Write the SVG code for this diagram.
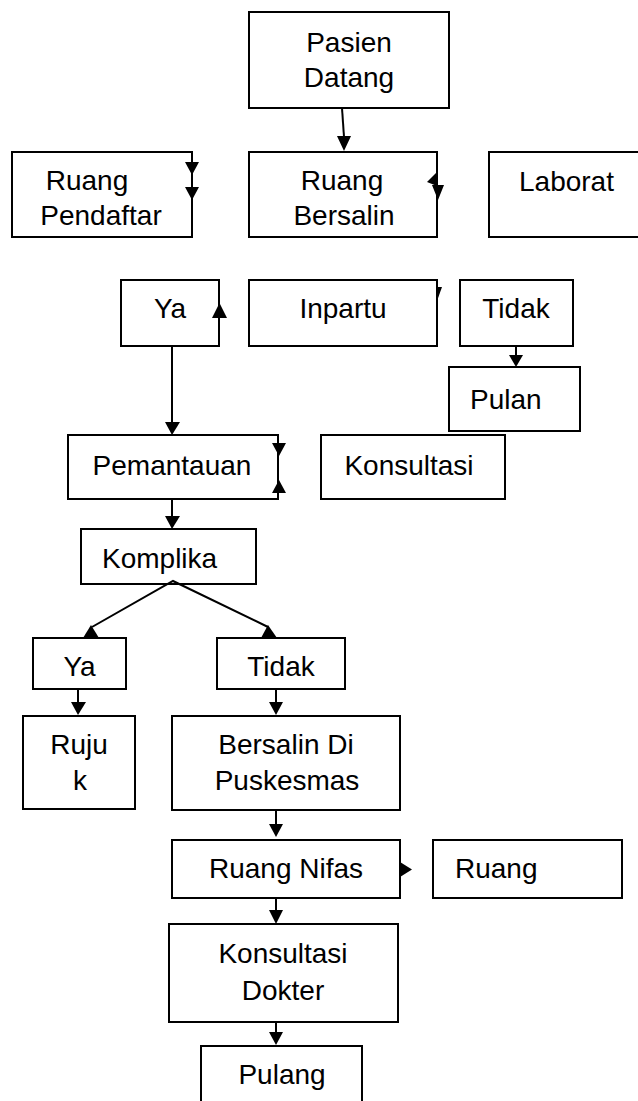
<svg xmlns="http://www.w3.org/2000/svg" width="638" height="1101" viewBox="0 0 638 1101">
<style>
.box{fill:#fff;stroke:#000;stroke-width:2}
.t{font-family:"Liberation Sans",Arial,sans-serif;font-size:28px;fill:#000}
.m{text-anchor:middle}
.ln{stroke:#000;stroke-width:2;fill:none}
.ah{fill:#000;stroke:none}
</style>
<rect width="638" height="1101" fill="#fff"/>
<g id="n-pasien"><rect class="box" x="249" y="12" width="200" height="96"/><text class="t m" x="349" y="52">Pasien</text><text class="t m" x="349" y="87">Datang</text></g>
<g id="n-pendaftar"><rect class="box" x="12" y="152" width="180" height="85"/><text class="t m" x="87" y="190">Ruang</text><text class="t m" x="101" y="225">Pendaftar</text></g>
<g id="n-bersalin"><rect class="box" x="249" y="152" width="188" height="85"/><text class="t m" x="342" y="190">Ruang</text><text class="t m" x="344" y="225">Bersalin</text></g>
<g id="n-laborat"><rect class="box" x="489" y="152" width="200" height="85"/><text class="t" x="519" y="191">Laborat</text></g>
<g id="n-ya1"><rect class="box" x="121" y="280" width="98" height="66"/><text class="t m" x="170" y="318">Ya</text></g>
<g id="n-inpartu"><rect class="box" x="249" y="280" width="188" height="66"/><text class="t m" x="343" y="318">Inpartu</text></g>
<g id="n-tidak1"><rect class="box" x="460" y="280" width="113" height="66"/><text class="t m" x="516" y="318">Tidak</text></g>
<g id="n-pulan"><rect class="box" x="449" y="367" width="131" height="64"/><text class="t" x="470" y="409">Pulan</text></g>
<g id="n-pemantauan"><rect class="box" x="68" y="435" width="210" height="64"/><text class="t m" x="172" y="475">Pemantauan</text></g>
<g id="n-konsultasi1"><rect class="box" x="321" y="435" width="184" height="64"/><text class="t m" x="409" y="475">Konsultasi</text></g>
<g id="n-komplika"><rect class="box" x="81" y="529" width="175" height="55"/><text class="t" x="102" y="568">Komplika</text></g>
<g id="n-ya2"><rect class="box" x="33" y="638" width="93" height="51"/><text class="t m" x="79.5" y="676">Ya</text></g>
<g id="n-tidak2"><rect class="box" x="217" y="638" width="128" height="51"/><text class="t m" x="281" y="676">Tidak</text></g>
<g id="n-ruju"><rect class="box" x="23" y="716" width="112" height="93"/><text class="t m" x="79" y="754">Ruju</text><text class="t m" x="80" y="790">k</text></g>
<g id="n-bersalindi"><rect class="box" x="172" y="716" width="228" height="94"/><text class="t m" x="286" y="754">Bersalin Di</text><text class="t m" x="287" y="790">Puskesmas</text></g>
<g id="n-nifas"><rect class="box" x="172" y="840" width="228" height="58"/><text class="t m" x="286" y="878">Ruang Nifas</text></g>
<g id="n-ruang"><rect class="box" x="433" y="840" width="189" height="58"/><text class="t" x="455" y="878">Ruang</text></g>
<g id="n-dokter"><rect class="box" x="169" y="924" width="229" height="98"/><text class="t m" x="283" y="963">Konsultasi</text><text class="t m" x="283" y="1000">Dokter</text></g>
<g id="n-pulang"><rect class="box" x="201" y="1046" width="161" height="70"/><text class="t m" x="282" y="1084">Pulang</text></g>
<g id="connectors">
<line class="ln" x1="342" y1="108" x2="344" y2="137"/><polygon class="ah" points="337,136 351,136 344,151"/>
<polygon class="ah" points="185,162 199,162 192,175"/><polygon class="ah" points="185,187 199,187 192,200"/>
<polygon class="ah" points="427,182 437,172 437,186"/><polygon class="ah" points="432,185 444,185 438,200"/>
<polygon class="ah" points="212,318 227,318 219.5,303"/>
<polygon class="ah" points="437,287 442,287 437,301"/>
<line class="ln" x1="516" y1="346" x2="516" y2="356"/><polygon class="ah" points="509,355 523,355 516,367"/>
<line class="ln" x1="172" y1="346" x2="172" y2="423"/><polygon class="ah" points="165,422 180,422 172,435"/>
<polygon class="ah" points="272,443 286,443 279,456"/><polygon class="ah" points="272,493 286,493 279,480"/>
<line class="ln" x1="172" y1="499" x2="172" y2="517"/><polygon class="ah" points="165,516 180,516 172,529"/>
<polyline class="ln" points="92,627 173,581 268,627"/>
<polygon class="ah" points="91,625 83,638 99,638"/><polygon class="ah" points="268,625 261,638 277,638"/>
<line class="ln" x1="78" y1="689" x2="78" y2="703"/><polygon class="ah" points="71,702 86,702 78,715"/>
<line class="ln" x1="276" y1="689" x2="276" y2="703"/><polygon class="ah" points="269,702 283,702 276,715"/>
<line class="ln" x1="276" y1="810" x2="276" y2="825"/><polygon class="ah" points="269,824 283,824 276,837"/>
<polygon class="ah" points="400,862 400,877 412,869.5"/>
<line class="ln" x1="276" y1="898" x2="276" y2="911"/><polygon class="ah" points="269,910 283,910 276,924"/>
<line class="ln" x1="276" y1="1022" x2="276" y2="1033"/><polygon class="ah" points="269,1032 283,1032 276,1045"/>
</g>
</svg>
